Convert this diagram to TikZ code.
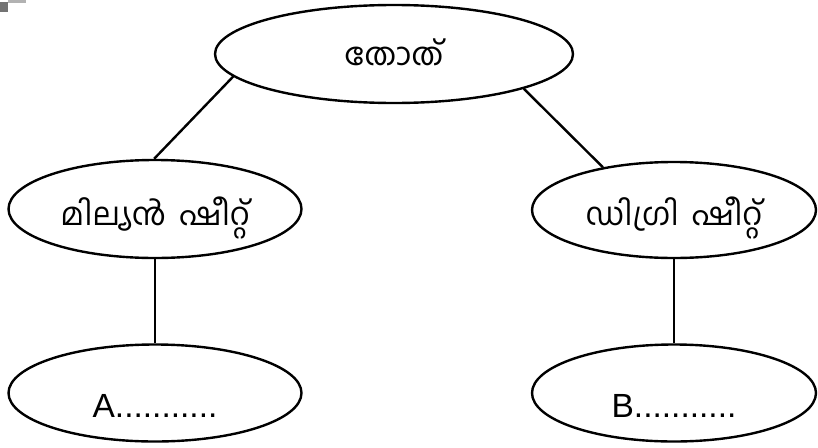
\documentclass[tikz,border=0pt]{standalone}
\usepackage{fontspec}
\setmainfont{Liberation Sans}
\newfontfamily\mlfont[Script=Malayalam]{Hind Kochi}
\usetikzlibrary{shapes.geometric}

% text height = twice the drop of the baseline below the node centre
\tikzset{
  bubble/.style={ellipse, draw=black, line width=2.4pt, inner sep=0pt, fill=white, text depth=0pt},
  link/.style={draw=black, line width=2.4pt},
  mltext/.style={font=\mlfont\fontsize{31.5}{36}\selectfont},
  lattext/.style={font=\fontsize{33.5}{38}\selectfont}
}
\newcommand\wordgap{\hspace{13pt}}

\begin{document}
\begin{tikzpicture}[x=1pt, y=-1pt]
  \useasboundingbox (0,0) rectangle (818,447);
  \fill[white] (0,0) rectangle (818,447);

  % small grey mark in the upper left corner
  \fill[black!55] (0,2) rectangle (8,12);
  \fill[black!30] (8,0) rectangle (26,3);

  % the five ellipses
  \node[bubble, minimum width=358pt, minimum height=98pt, mltext, text height=22pt] (top) at (394,54) {തോത്};
  \node[bubble, minimum width=293pt, minimum height=98pt, mltext, text height=32pt] (ml) at (155,209) {മില്യൻ\wordgap ഷീറ്റ്};
  \node[bubble, minimum width=284pt, minimum height=96pt, mltext, text height=30pt] (mr) at (674,210) {ഡിഗ്രി\wordgap ഷീറ്റ്};
  \node[bubble, minimum width=293pt, minimum height=97pt, lattext, text height=48pt] (bl) at (155,393) {A...........};
  \node[bubble, minimum width=284pt, minimum height=97pt, lattext, text height=48pt] (br) at (674,393) {B...........};

  % connectors
  \draw[link] (top.188.6) -- (ml.91);
  \draw[link] (top.345.5) -- (mr.149.3);
  \draw[link] (ml.south) -- (bl.north);
  \draw[link] (mr.south) -- (br.north);
\end{tikzpicture}
\end{document}
